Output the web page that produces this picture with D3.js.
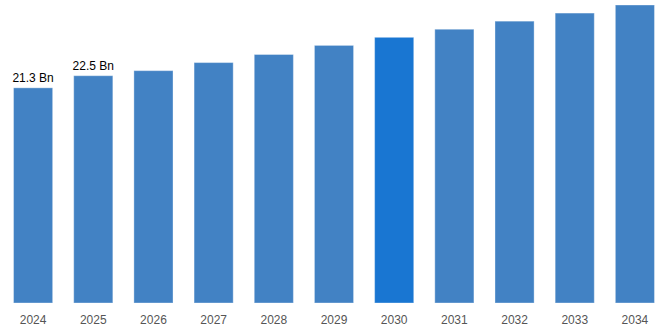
<!DOCTYPE html>
<html><head><meta charset="utf-8">
<script src="https://cdn.jsdelivr.net/npm/d3@7/dist/d3.min.js"></script>
<style>html,body{margin:0;padding:0;background:#fff;}svg{display:block;}</style>
</head><body>
<svg id="chart" width="668" height="334"></svg>
<script>
const years = ["2024","2025","2026","2027","2028","2029","2030","2031","2032","2033","2034"];
const values = [21.3, 22.5, 23.0, 23.8, 24.6, 25.5, 26.3, 27.1, 27.9, 28.7, 29.5];
const labeledYears = ["2024","2025"];
const highlightYear = "2030";

const svg = d3.select("#chart");
const x = d3.scaleBand().domain(years).range([3, 665]).paddingInner(0.35).paddingOuter(0.175);
const y = d3.scaleLinear().domain([0, 29.5]).range([303, 5]);

svg.selectAll("rect.bar").data(years).enter().append("rect")
  .attr("class","bar")
  .attr("x", d => x(d))
  .attr("width", x.bandwidth())
  .attr("y", (d,i) => y(values[i]))
  .attr("height", (d,i) => y(0) - y(values[i]))
  .attr("fill", d => d === highlightYear ? "#1976D2" : "#4282C4")
  .attr("stroke", "rgba(255,255,255,0.35)")
  .attr("stroke-width", 1);

const xAxis = d3.axisBottom(x).tickSize(0).tickPadding(0);
const gx = svg.append("g").attr("transform", "translate(0,315)").call(xAxis);
gx.select(".domain").remove();
gx.selectAll("text")
  .attr("font-family", "Liberation Sans, Arial, sans-serif")
  .attr("font-size", 12)
  .attr("fill", "#555")
  .attr("dy", "0.71em");

svg.selectAll("text.val").data(years.filter(d => labeledYears.includes(d))).enter().append("text")
  .attr("class","val")
  .attr("x", d => x(d) + x.bandwidth()/2)
  .attr("y", d => y(values[years.indexOf(d)]) - 6)
  .attr("text-anchor","middle")
  .attr("font-family", "Liberation Sans, Arial, sans-serif")
  .attr("font-size", 12)
  .attr("fill", "#000")
  .text(d => values[years.indexOf(d)].toFixed(1) + " Bn");
</script>
</body></html>
